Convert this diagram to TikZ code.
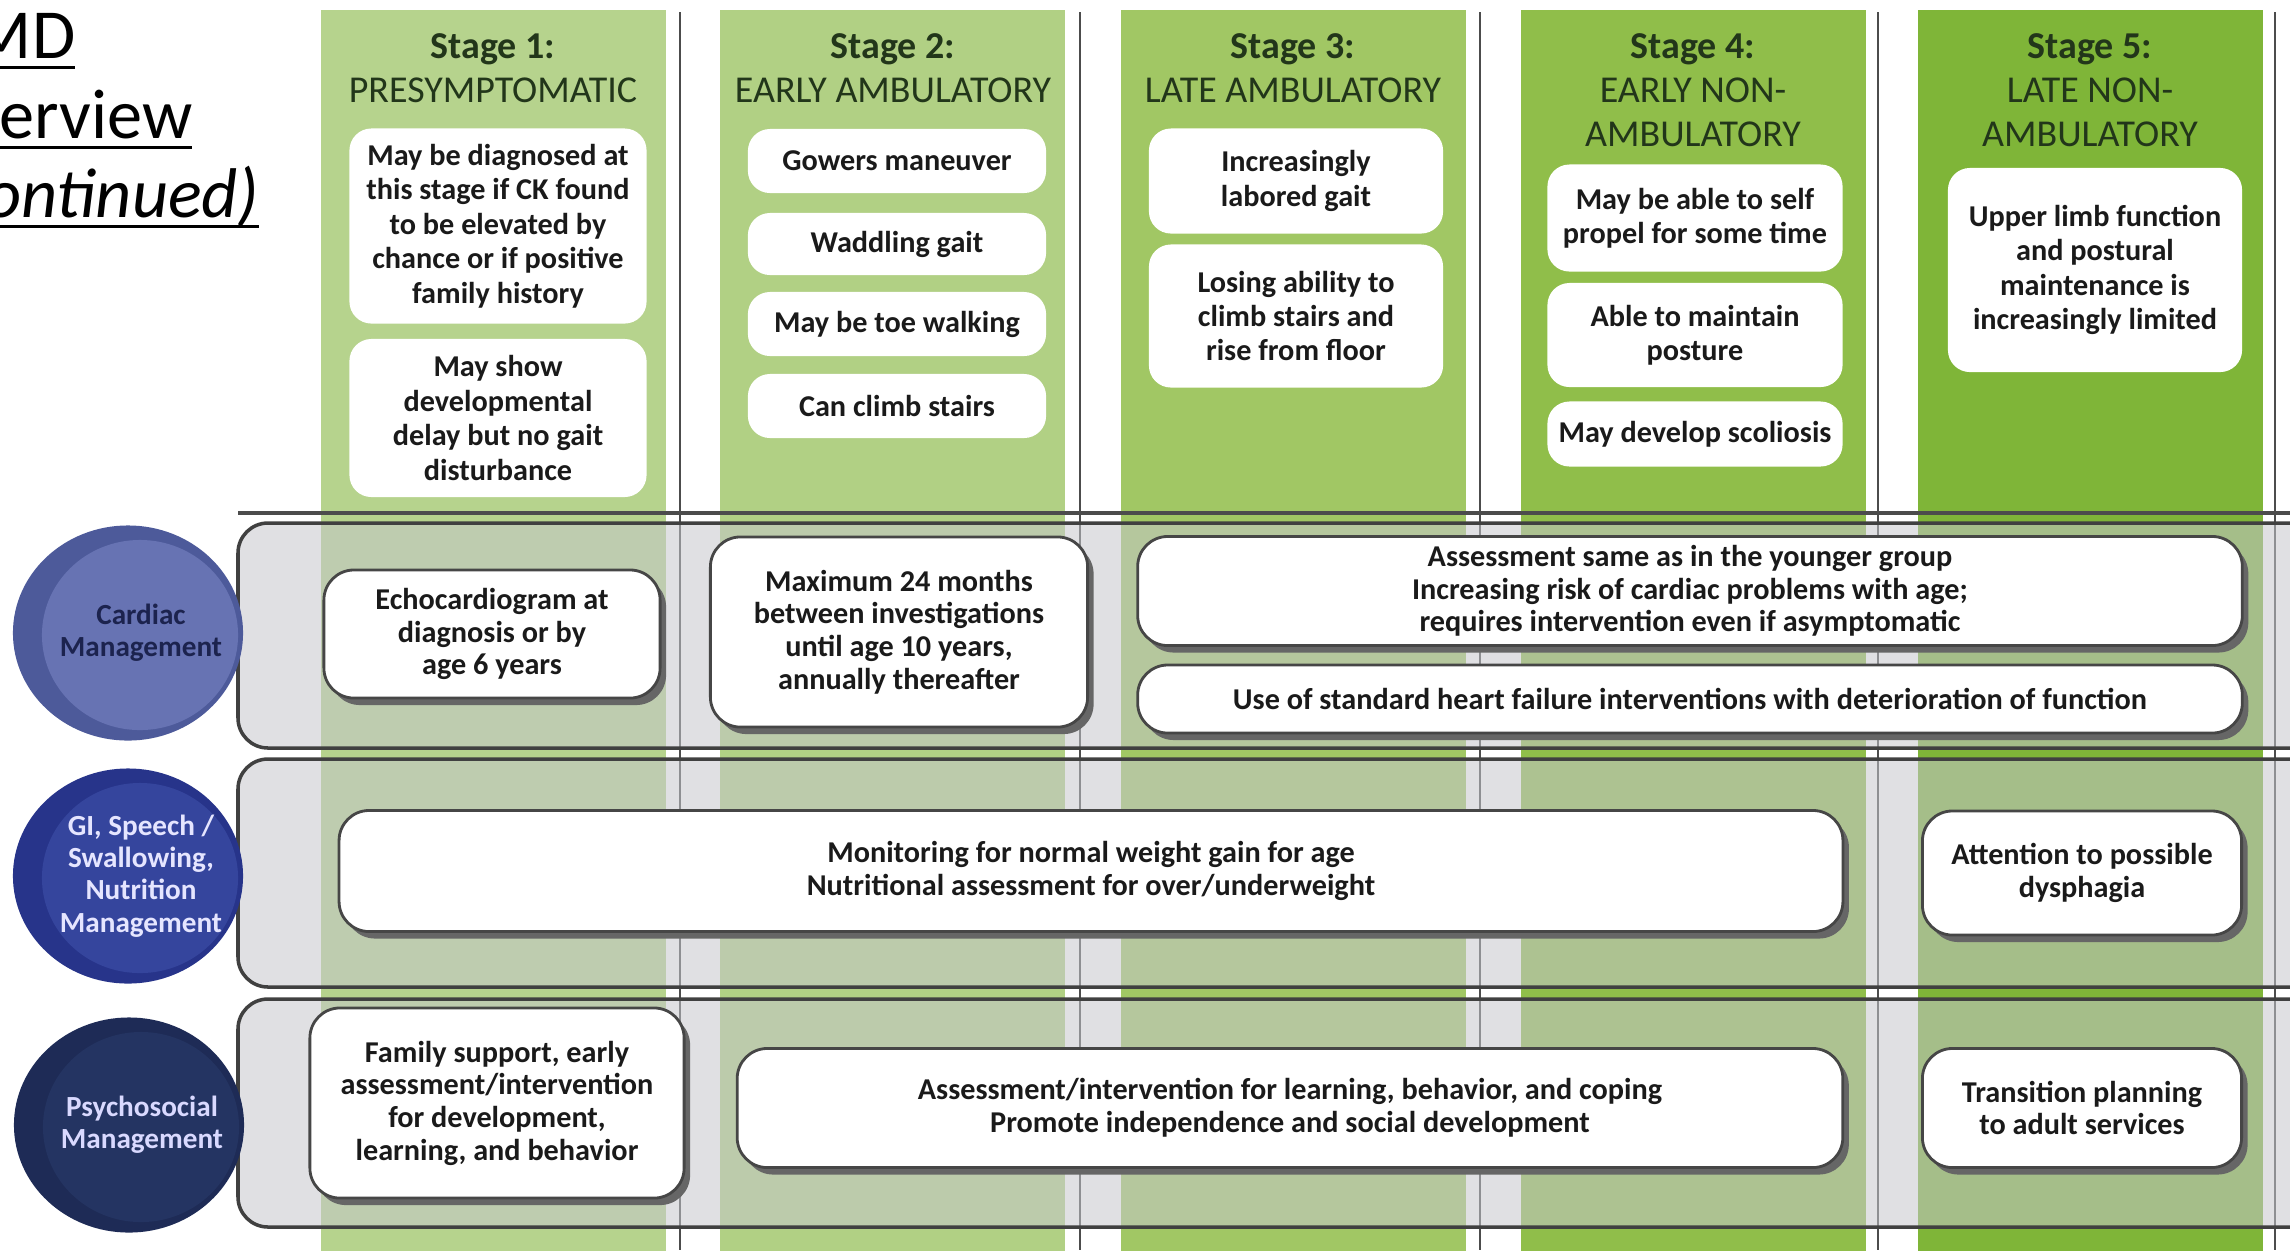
\documentclass[tikz,border=0pt]{standalone}
\usepackage{fontspec}
\setmainfont{Carlito}
\usetikzlibrary{shapes.geometric,shadows}

\definecolor{stgA}{HTML}{B6D38D}
\definecolor{stgB}{HTML}{B1D084}
\definecolor{stgC}{HTML}{A1C764}
\definecolor{stgD}{HTML}{90BE4A}
\definecolor{stgE}{HTML}{7FB538}
\definecolor{hdtext}{HTML}{22361A}
\definecolor{boxtext}{HTML}{1A1A1A}
\definecolor{rowgrey}{HTML}{C6C7CC}
\definecolor{cardrim}{HTML}{4D5A9A}
\definecolor{cardin}{HTML}{6773B3}
\definecolor{cardtext}{HTML}{1C234E}
\definecolor{girim}{HTML}{27348A}
\definecolor{giin}{HTML}{35459D}
\definecolor{psyrim}{HTML}{1E2B56}
\definecolor{psyin}{HTML}{243462}

\newcommand\ttlul[1]{\setbox0\hbox{#1}\rlap{\rule[-3pt]{\wd0}{0.85pt}}\box0}

\begin{document}
\begin{tikzpicture}[x=0.01cm, y=-0.01cm,
	ttl/.style = {anchor=base east, inner sep=0pt, font=\fontsize{20pt}{24pt}\selectfont},
	hd/.style = {anchor=north, align=center, inner sep=0pt, text=hdtext, font=\fontsize{10.8pt}{12.5pt}\selectfont},
	b/.style = {rectangle, rounded corners=0.22cm, fill=white, align=center, inner sep=0pt, text=boxtext, font=\fontsize{8.6pt}{9.8pt}\selectfont\bfseries},
	r/.style = {b, draw=gray!55!black, line width=0.8pt, rounded corners=0.3cm, drop shadow={shadow xshift=0.06cm, shadow yshift=-0.07cm, fill=gray!80!black, opacity=1}, font=\fontsize{8.6pt}{9.3pt}\selectfont\bfseries},
	m/.style = {ellipse, minimum width=2.3cm, minimum height=2.15cm, inner sep=0pt},
	mt/.style = {align=center, inner sep=0pt, font=\fontsize{8.3pt}{9.2pt}\selectfont\bfseries},
	rw/.style = {draw=gray!50!black, line width=1pt, fill=rowgrey, fill opacity=0.55, rounded corners=0.3cm},
	dv/.style = {draw=gray!60!black, line width=0.7pt}
	]

	\useasboundingbox (0,0) rectangle (2290,1250);

	%Columns
	\foreach \c/\col in {321/stgA, 720/stgB, 1121/stgC, 1521/stgD, 1918/stgE}
		\fill[\col] (\c,10) rectangle ++(345,1245);
	\foreach \d in {680, 1080, 1480, 1878, 2275}
		\draw[dv] (\d,12) -- (\d,1250);

	%Rows
	\draw[dv, line width=1.2pt] (238,513) -- (2290,513);
	\foreach \t/\b in {523/748, 759/987, 999/1227}
		\draw[rw] (238,\t) rectangle (2330,\b);

	%Title
	\node[ttl]	(t1)	at	(76, 58)	{\ttlul{MD}};
	\node[ttl]	(t2)	at	(193, 138)	{\ttlul{erview}};
	\node[ttl]	(t3)	at	(260, 217)	{\ttlul{\itshape ontinued)}};

	%Stages
	\node[hd]	(h1)	at	(493, 33)	{\textbf{Stage 1:}\\PRESYMPTOMATIC};
	\node[hd]	(h2)	at	(893, 33)	{\textbf{Stage 2:}\\EARLY AMBULATORY};
	\node[hd]	(h3)	at	(1293, 33)	{\textbf{Stage 3:}\\LATE AMBULATORY};
	\node[hd]	(h4)	at	(1693, 33)	{\textbf{Stage 4:}\\EARLY NON-\\AMBULATORY};
	\node[hd]	(h5)	at	(2090, 33)	{\textbf{Stage 5:}\\LATE NON-\\AMBULATORY};

	\node[b, minimum width=2.97cm, minimum height=1.95cm]	(s1a)	at	(498, 226)	{May be diagnosed at\\this stage if CK found\\to be elevated by\\chance or if positive\\family history};
	\node[b, minimum width=2.97cm, minimum height=1.58cm]	(s1b)	at	(498, 418)	{May show\\developmental\\delay but no gait\\disturbance};
	\node[b, minimum width=2.98cm, minimum height=0.64cm]	(s2a)	at	(897, 161)	{Gowers maneuver};
	\node[b, minimum width=2.98cm, minimum height=0.62cm]	(s2b)	at	(897, 244)	{Waddling gait};
	\node[b, minimum width=2.98cm, minimum height=0.64cm]	(s2c)	at	(897, 324)	{May be toe walking};
	\node[b, minimum width=2.98cm, minimum height=0.64cm]	(s2d)	at	(897, 406)	{Can climb stairs};
	\node[b, minimum width=2.94cm, minimum height=1.05cm]	(s3a)	at	(1296, 181)	{Increasingly\\labored gait};
	\node[b, minimum width=2.94cm, minimum height=1.43cm]	(s3b)	at	(1296, 316)	{Losing ability to\\climb stairs and\\rise from floor};
	\node[b, minimum width=2.95cm, minimum height=1.07cm]	(s4a)	at	(1695, 218)	{May be able to self\\propel for some time};
	\node[b, minimum width=2.95cm, minimum height=1.04cm]	(s4b)	at	(1695, 335)	{Able to maintain\\posture};
	\node[b, minimum width=2.95cm, minimum height=0.65cm]	(s4c)	at	(1695, 434)	{May develop scoliosis};
	\node[b, minimum width=2.94cm, minimum height=2.04cm]	(s5a)	at	(2095, 270)	{Upper limb function\\and postural\\maintenance is\\increasingly limited};

	%Management
	\node[m, fill=cardrim, path picture={\fill[cardin] ([xshift=0.12cm, yshift=-0.02cm]path picture bounding box.center) ellipse (0.98cm and 0.95cm);}]	(card)	at	(128, 633)	{};
	\node[m, fill=girim, path picture={\fill[giin] ([xshift=0.12cm, yshift=-0.02cm]path picture bounding box.center) ellipse (0.98cm and 0.95cm);}]	(gi)	at	(128, 876)	{};
	\node[m, fill=psyrim, path picture={\fill[psyin] ([xshift=0.12cm, yshift=-0.02cm]path picture bounding box.center) ellipse (0.98cm and 0.95cm);}]	(psy)	at	(129, 1125)	{};
	\node[mt, text=cardtext]	(cardlbl)	at	([xshift=0.13cm]card.center)	{Cardiac\\Management};
	\node[mt, text=white!90!blue]	(gilbl)	at	([xshift=0.13cm]gi.center)	{GI, Speech /\\Swallowing,\\Nutrition\\Management};
	\node[mt, text=white!85!blue]	(psylbl)	at	([xshift=0.13cm]psy.center)	{Psychosocial\\Management};

	\node[r, minimum width=3.36cm, minimum height=1.28cm]	(echo)	at	(492, 634)	{Echocardiogram at\\diagnosis or by\\age 6 years};
	\node[r, minimum width=3.77cm, minimum height=1.90cm]	(max24)	at	(899, 632)	{Maximum 24 months\\between investigations\\until age 10 years,\\annually thereafter};
	\node[r, minimum width=11.04cm, minimum height=1.09cm]	(assess)	at	(1690, 591)	{Assessment same as in the younger group\\Increasing risk of cardiac problems with age;\\requires intervention even if asymptomatic};
	\node[r, minimum width=11.04cm, minimum height=0.68cm]	(hf)	at	(1690, 699)	{Use of standard heart failure interventions with deterioration of function};
	\node[r, minimum width=15.03cm, minimum height=1.21cm]	(weight)	at	(1091, 871)	{Monitoring for normal weight gain for age\\Nutritional assessment for over/underweight};
	\node[r, minimum width=3.19cm, minimum height=1.24cm]	(dysph)	at	(2082, 873)	{Attention to possible\\dysphagia};
	\node[r, minimum width=3.74cm, minimum height=1.90cm]	(family)	at	(497, 1103)	{Family support, early\\assessment/intervention\\for development,\\learning, and behavior};
	\node[r, minimum width=11.05cm, minimum height=1.19cm]	(coping)	at	(1290, 1108)	{Assessment/intervention for learning, behavior, and coping\\Promote independence and social development};
	\node[r, minimum width=3.19cm, minimum height=1.19cm]	(adult)	at	(2082, 1108)	{Transition planning\\to adult services};
\end{tikzpicture}
\end{document}
